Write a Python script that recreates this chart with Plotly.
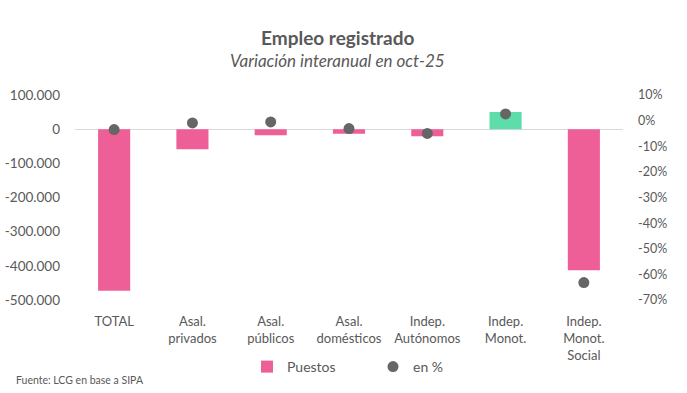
import plotly.graph_objects as go

categories = ["TOTAL", "Asal.<br>privados", "Asal.<br>públicos", "Asal.<br>domésticos",
              "Indep.<br>Autónomos", "Indep.<br>Monot.", "Indep.<br>Monot.<br>Social"]
puestos = [-473000, -58500, -17500, -13500, -20500, 50500, -413000]
en_pct = [-3.5, -0.9, -0.5, -3.1, -5.0, 2.6, -63.2]
left_ticks = [100000, 0, -100000, -200000, -300000, -400000, -500000]
left_labels = ["100.000", "0", "-100.000", "-200.000", "-300.000", "-400.000", "-500.000"]
right_ticks = [10, 0, -10, -20, -30, -40, -50, -60, -70]
right_labels = ["10%", "0%", "-10%", "-20%", "-30%", "-40%", "-50%", "-60%", "-70%"]

PINK = "#EE5F97"
GREEN = "#5EDDAB"
GRAY = "#666666"
TXT = "#595959"
FONT = "Lato"

bar_colors = [GREEN if v > 0 else PINK for v in puestos]
xs = list(range(len(categories)))

fig = go.Figure()
fig.add_trace(go.Bar(x=xs, y=puestos, name="Puestos", marker=dict(color=bar_colors, line_width=0),
                     width=0.41, yaxis="y"))
fig.add_trace(go.Scatter(x=xs, y=en_pct, name="en %", mode="markers",
                         marker=dict(color=GRAY, size=11, symbol="circle"), yaxis="y2"))

ph = 393 - 95 - 93
pw = 687 - 75 - 64
def py(pix):
    return (300 - pix) / ph
def px(pix):
    return (pix - 75) / pw

fig.update_layout(
    width=687, height=393,
    margin=dict(l=75, r=64, t=95, b=93, autoexpand=False),
    paper_bgcolor="white", plot_bgcolor="white",
    font=dict(family=FONT, color=TXT, size=13),
    showlegend=True,
    legend=dict(orientation="h", x=px(247), xanchor="left", y=py(367), yanchor="middle",
                font=dict(size=14, color=TXT), entrywidth=81, itemwidth=30,
                traceorder="normal"),
    xaxis=dict(tickmode="array", tickvals=xs, ticktext=categories, range=[-0.5, 6.5],
               showgrid=False, zeroline=False, showline=False, ticks="", automargin=False,
               ticklabelstandoff=12, tickfont=dict(size=13, color=TXT)),
    yaxis=dict(range=[-500000, 100000], tickmode="array", tickvals=left_ticks, ticktext=left_labels,
               showgrid=False, zeroline=True, zerolinecolor="#D9D9D9", zerolinewidth=1,
               showline=False, ticks="", automargin=False, ticklabelstandoff=14,
               tickfont=dict(size=13.5, color=TXT)),
    yaxis2=dict(range=[-70, 10], overlaying="y", side="right", tickmode="array",
                tickvals=right_ticks, ticktext=right_labels, showgrid=False, zeroline=False,
                showline=False, ticks="", automargin=False, ticklabelstandoff=14,
                tickfont=dict(size=12.5, color=TXT)),
    annotations=[
        dict(text="<b>Empleo registrado</b>", xref="paper", yref="paper", x=px(337), y=py(38),
             showarrow=False, font=dict(size=19, color=TXT, family=FONT),
             xanchor="center", yanchor="middle"),
        dict(text="<i>Variación interanual en oct-25</i>", xref="paper", yref="paper", x=px(337),
             y=py(60), showarrow=False, font=dict(size=17, color=TXT, family=FONT),
             xanchor="center", yanchor="middle"),
        dict(text="Fuente: LCG en base a SIPA", xref="paper", yref="paper", x=px(14), y=py(380),
             showarrow=False, font=dict(size=10.5, color=TXT, family=FONT),
             xanchor="left", yanchor="middle"),
    ],
)

fig.write_html("out.html", config={"displayModeBar": False},
               post_script="document.body.style.margin='0';")
